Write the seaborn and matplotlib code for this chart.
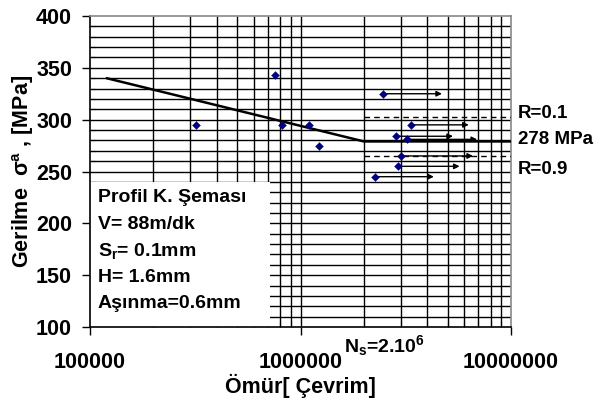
import matplotlib
matplotlib.use("Agg")
import matplotlib.pyplot as plt
import seaborn as sns
import pandas as pd
import numpy as np
from matplotlib.patches import Rectangle
from matplotlib.ticker import LogLocator, MultipleLocator, FixedLocator

# failed specimens (cycles, stress amplitude MPa)
fail_N = [3.2e5, 7.6e5, 8.2e5, 1.10e6, 1.23e6]
fail_S = [295, 343, 295, 295, 275]

# run-outs: start point and arrow end
runout_N = [2.47e6, 3.35e6, 2.83e6, 3.19e6, 3.0e6, 2.9e6, 2.27e6]
runout_S = [325, 295, 284, 281, 265, 255, 245]
runout_end = [4.7e6, 6.3e6, 5.3e6, 6.9e6, 6.6e6, 5.7e6, 4.3e6]

# S-N fit line and fatigue limit
fit_N = [1.2e5, 2e6, 1e7]
fit_S = [340, 279, 279]
band_N = [2e6, 1e7]
r01_S = [303, 303]
r09_S = [265, 265]

box_lines = ["Profil K. Şeması", "V= 88m/dk", r"S$\mathregular{_r}$= 0.1mm",
             "H= 1.6mm", "Aşınma=0.6mm"]

sns.set_style("white")
plt.rcParams["font.family"] = ["Liberation Sans", "DejaVu Sans"]
plt.rcParams["font.weight"] = "bold"
plt.rcParams["text.color"] = "black"
plt.rcParams["axes.labelcolor"] = "black"
plt.rcParams["xtick.color"] = "black"
plt.rcParams["ytick.color"] = "black"

fig = plt.figure(figsize=(5.97, 4.03), dpi=100)
ax = fig.add_axes([90 / 597, 1 - 327 / 403, 421 / 597, 311 / 403])
ax.set_xscale("log")
ax.set_xlim(1e5, 1e7)
ax.set_ylim(100, 400)

# grid (drawn by hand so the text box can cover it)
gx = [m * 10 ** d for d in (5, 6) for m in range(2, 10)] + [1e6]
gy = list(range(110, 400, 10))
ax.vlines(gx, 100, 400, colors="black", lw=1.0, zorder=0.5)
ax.hlines(gy, 1e5, 1e7, colors="black", lw=1.0, zorder=0.5)
ax.add_patch(Rectangle((0, 0), 0.4276, 0.466, transform=ax.transAxes,
                       facecolor="white", edgecolor="none", zorder=0.8))

sns.lineplot(x=fit_N, y=fit_S, ax=ax, color="black", lw=1.8, zorder=3)
sns.lineplot(x=band_N, y=r01_S, ax=ax, color="black", lw=1.0,
             linestyle=(0, (4, 3)), zorder=3)
sns.lineplot(x=band_N, y=r09_S, ax=ax, color="black", lw=1.0,
             linestyle=(0, (4, 3)), zorder=3)

for n0, s, n1 in zip(runout_N, runout_S, runout_end):
    ax.annotate("", xy=(n1, s), xytext=(n0, s),
                arrowprops=dict(arrowstyle="-|>", color="black", lw=1.0,
                                mutation_scale=8, shrinkA=0, shrinkB=0),
                zorder=4)

pts = pd.DataFrame({"N": fail_N + runout_N, "S": fail_S + runout_S})
sns.scatterplot(data=pts, x="N", y="S", ax=ax, marker="D", s=16,
                color="#000080", edgecolor="#000080", zorder=5)

# ticks
ax.xaxis.set_major_locator(FixedLocator([1e5, 1e6, 1e7]))
ax.xaxis.set_minor_locator(LogLocator(base=10, subs=np.arange(2, 10)))
ax.xaxis.set_minor_formatter(matplotlib.ticker.NullFormatter())
ax.set_xticklabels(["100000", "1000000", "10000000"])
ax.yaxis.set_major_locator(MultipleLocator(50))
ax.yaxis.set_minor_locator(MultipleLocator(10))
ax.tick_params(which="major", direction="out", length=6, width=1,
               labelsize=15.5, color="black")
ax.tick_params(axis="x", which="major", pad=12)
ax.tick_params(axis="y", which="major", pad=7)
ax.tick_params(which="minor", direction="in", length=4, width=0.8,
               color="black")
ax.xaxis.set_ticks_position("bottom")
ax.yaxis.set_ticks_position("left")
for side in ("left", "bottom"):
    ax.spines[side].set_color("black")
    ax.spines[side].set_linewidth(1.2)
for side in ("top", "right"):
    ax.spines[side].set_color("#888888")
    ax.spines[side].set_linewidth(1.2)

ax.set_xlabel("Ömür[ Çevrim]", fontsize=15.5, fontweight="bold", labelpad=1)
ax.set_ylabel(r"Gerilme  $\mathregular{\sigma^{a}}$ , [MPa]", fontsize=15.5,
              fontweight="bold", labelpad=0)

for i, t in enumerate(box_lines):
    ax.text(98 / 597, 1 - (198 + 26.5 * i) / 403, t, transform=fig.transFigure,
            fontsize=14, fontweight="bold", va="center", ha="left", zorder=6)

fig.text(518 / 597, 1 - 113 / 403, "R=0.1", fontsize=13.5, fontweight="bold",
         va="center")
fig.text(518 / 597, 1 - 140 / 403, "278 MPa", fontsize=13.5, fontweight="bold",
         va="center")
fig.text(518 / 597, 1 - 170 / 403, "R=0.9", fontsize=13.5, fontweight="bold",
         va="center")
fig.text(344 / 597, 1 - 346 / 403, r"N$\mathregular{_s}$=2.10$\mathregular{^6}$",
         fontsize=14, fontweight="bold", va="center")

fig.savefig("out.png", dpi=100)
